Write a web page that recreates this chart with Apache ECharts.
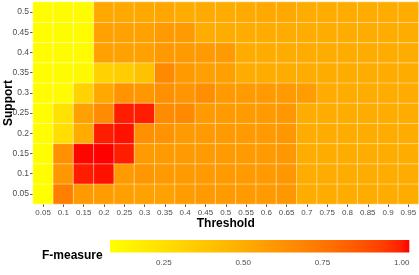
<!DOCTYPE html>
<html>
<head>
<meta charset="utf-8">
<script src="https://cdn.jsdelivr.net/npm/echarts@6/dist/echarts.min.js"></script>
<style>
html,body{margin:0;padding:0;background:#fff;}
#c{width:419px;height:275px;}
</style>
</head>
<body>
<div id="c"></div>
<script>
const thresholds = ['0.05','0.1','0.15','0.2','0.25','0.3','0.35','0.4','0.45','0.5','0.55','0.6','0.65','0.7','0.75','0.8','0.85','0.9','0.95'];
const supports = ['0.05','0.1','0.15','0.2','0.25','0.3','0.35','0.4','0.45','0.5'];
const legendTicks = [0.25, 0.5, 0.75, 1.0];
const fMin = 0.08, fMax = 1.024;

// F-measure per support level, one value per threshold
const fSup005 = [0.08,0.71,0.58,0.57,0.56,0.55,0.55,0.57,0.58,0.58,0.58,0.58,0.60,0.50,0.50,0.50,0.50,0.50,0.50];
const fSup010 = [0.09,0.60,1.00,1.01,0.58,0.60,0.58,0.58,0.58,0.58,0.58,0.58,0.60,0.50,0.50,0.50,0.50,0.50,0.50];
const fSup015 = [0.09,0.63,1.02,1.024,1.00,0.58,0.58,0.58,0.58,0.58,0.58,0.58,0.60,0.50,0.50,0.50,0.50,0.50,0.50];
const fSup020 = [0.09,0.25,0.50,1.00,1.01,0.63,0.62,0.58,0.58,0.58,0.58,0.58,0.60,0.50,0.50,0.50,0.50,0.50,0.50];
const fSup025 = [0.09,0.23,0.55,0.65,1.00,1.00,0.65,0.66,0.58,0.58,0.58,0.58,0.60,0.50,0.50,0.50,0.50,0.50,0.50];
const fSup030 = [0.09,0.10,0.31,0.52,0.62,0.60,0.63,0.61,0.64,0.58,0.58,0.58,0.58,0.57,0.50,0.50,0.50,0.50,0.50];
const fSup035 = [0.09,0.10,0.11,0.31,0.34,0.39,0.66,0.58,0.56,0.56,0.50,0.50,0.50,0.50,0.50,0.50,0.50,0.50,0.50];
const fSup040 = [0.09,0.10,0.10,0.55,0.55,0.55,0.59,0.58,0.58,0.58,0.50,0.50,0.50,0.50,0.50,0.50,0.50,0.50,0.50];
const fSup045 = [0.09,0.10,0.10,0.55,0.55,0.55,0.58,0.58,0.50,0.50,0.50,0.50,0.50,0.50,0.50,0.50,0.50,0.50,0.50];
const fSup050 = [0.09,0.10,0.10,0.52,0.52,0.52,0.53,0.50,0.51,0.50,0.51,0.52,0.52,0.50,0.50,0.50,0.50,0.50,0.50];
const fRows = [fSup005,fSup010,fSup015,fSup020,fSup025,fSup030,fSup035,fSup040,fSup045,fSup050];

// ---- Lab interpolation (like ggplot's gradient) ----
function lin(c){c/=255;return c<=0.04045?c/12.92:Math.pow((c+0.055)/1.055,2.4);}
function delin(c){c=c<=0.0031308?12.92*c:1.055*Math.pow(c,1/2.4)-0.055;return Math.max(0,Math.min(255,Math.round(c*255)));}
function toLab(rgb){
  const R=lin(rgb[0]),G=lin(rgb[1]),B=lin(rgb[2]);
  const X=(0.4124*R+0.3576*G+0.1805*B)/0.95047,Y=0.2126*R+0.7152*G+0.0722*B,Z=(0.0193*R+0.1192*G+0.9505*B)/1.08883;
  const f=t=>t>0.008856?Math.cbrt(t):7.787*t+16/116;
  const fx=f(X),fy=f(Y),fz=f(Z);
  return [116*fy-16,500*(fx-fy),200*(fy-fz)];
}
function fromLab(l){
  const fy=(l[0]+16)/116,fx=fy+l[1]/500,fz=fy-l[2]/200;
  const g=t=>t>0.206893?t*t*t:(t-16/116)/7.787;
  const X=g(fx)*0.95047,Y=g(fy),Z=g(fz)*1.08883;
  const R=3.2406*X-1.5372*Y-0.4986*Z,G=-0.9689*X+1.8758*Y+0.0415*Z,B=0.0557*X-0.2040*Y+1.0570*Z;
  return 'rgb('+delin(R)+','+delin(G)+','+delin(B)+')';
}
const labLo=toLab([255,255,0]), labHi=toLab([255,0,0]);
const N=40;
const stops=[];
for(let i=0;i<=N;i++){const t=i/N;stops.push(fromLab([0,1,2].map(k=>labLo[k]+(labHi[k]-labLo[k])*t)));}

const heatData=[];
fRows.forEach((row,yi)=>row.forEach((v,xi)=>heatData.push([xi,yi,v])));

const chart=echarts.init(document.getElementById('c'),null,{renderer:'canvas'});
const FONT='Liberation Sans';
chart.setOption({
  animation:false,
  backgroundColor:'#fff',
  textStyle:{fontFamily:FONT},
  title:{text:'F-measure',left:42,top:250,padding:0,textStyle:{fontSize:12,fontWeight:'bold',color:'#000',fontFamily:FONT}},
  grid:[
    {left:33,top:2,width:385.5,height:202,containLabel:false,outerBoundsMode:'none'},
    {left:110,top:240,width:299.3,height:12.5,containLabel:false,outerBoundsMode:'none'}
  ],
  xAxis:[
    {type:'category',gridIndex:0,data:thresholds,
     axisLine:{show:false},
     axisTick:{show:true,alignWithLabel:true,interval:0,length:3,lineStyle:{color:'#333',width:0.8}},
     axisLabel:{interval:0,color:'#4D4D4D',fontSize:8,margin:5,fontFamily:FONT,hideOverlap:false},
     splitLine:{show:false},
     name:'Threshold',nameLocation:'middle',nameGap:20,nameMoveOverlap:false,
     nameTextStyle:{fontSize:12,fontWeight:'bold',color:'#000',fontFamily:FONT,verticalAlign:'middle'}},
    {type:'value',gridIndex:1,min:fMin,max:fMax,position:'bottom',
     axisLine:{show:false},splitLine:{show:false},
     axisTick:{show:true,inside:true,length:2.5,customValues:legendTicks,lineStyle:{color:'#fff',width:0.8}},
     axisLabel:{customValues:legendTicks,formatter:v=>v.toFixed(2),color:'#4D4D4D',fontSize:8,margin:6,fontFamily:FONT}},
    {type:'value',gridIndex:1,min:fMin,max:fMax,position:'top',
     axisLine:{show:false},splitLine:{show:false},axisLabel:{show:false},
     axisTick:{show:true,inside:true,length:2.5,customValues:legendTicks,lineStyle:{color:'#fff',width:0.8}}}
  ],
  yAxis:[
    {type:'category',gridIndex:0,data:supports,
     axisLine:{show:false},
     axisTick:{show:true,alignWithLabel:true,interval:0,length:3,lineStyle:{color:'#333',width:0.8}},
     axisLabel:{interval:0,color:'#4D4D4D',fontSize:8.5,margin:4,fontFamily:FONT},
     splitLine:{show:false},
     name:'Support',nameLocation:'middle',nameGap:24,nameRotate:90,nameMoveOverlap:false,
     nameTextStyle:{fontSize:12,fontWeight:'bold',color:'#000',fontFamily:FONT,verticalAlign:'middle'}},
    {type:'value',gridIndex:1,min:0,max:1,show:false}
  ],
  visualMap:{type:'continuous',show:false,min:fMin,max:fMax,seriesIndex:0,dimension:2,inRange:{color:stops}},
  series:[
    {type:'heatmap',xAxisIndex:0,yAxisIndex:0,data:heatData,
     itemStyle:{borderColor:'rgba(255,255,255,0.55)',borderWidth:0.8},
     emphasis:{disabled:true}},
    {type:'custom',xAxisIndex:1,yAxisIndex:1,data:[[fMin,fMax]],silent:true,z:1,
     renderItem:function(params,api){
       const p0=api.coord([api.value(0),0]);
       const p1=api.coord([api.value(1),1]);
       return {type:'rect',shape:{x:p0[0],y:p1[1],width:p1[0]-p0[0],height:p0[1]-p1[1]},
         style:{fill:new echarts.graphic.LinearGradient(0,0,1,0,stops.map((c,i)=>({offset:i/N,color:c})))}};
     }}
  ]
});
</script>
</body>
</html>
